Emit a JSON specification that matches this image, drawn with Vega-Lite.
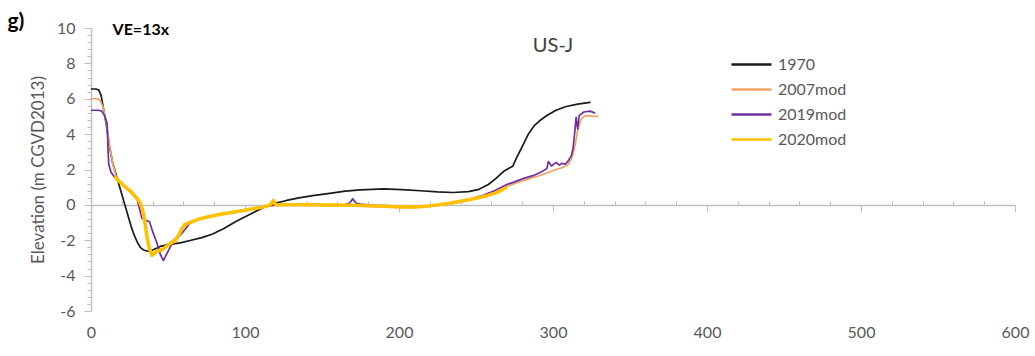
{
  "$schema": "https://vega.github.io/schema/vega-lite/v6.json",
  "width": 924,
  "height": 283,
  "autosize": {"type": "none"},
  "padding": {"left": 91, "top": 28, "right": 20, "bottom": 45},
  "background": "white",
  "config": {"view": {"stroke": null}, "font": "Lato"},
  "title": {"text": "g)", "anchor": "start", "frame": "bounds", "dx": -22, "offset": -12, "fontSize": 21, "fontWeight": "bold", "font": "Lato", "color": "#000000"},
  "encoding": {
    "x": {"field": "x", "type": "quantitative",
      "scale": {"domain": [0, 600], "nice": false, "zero": false},
      "axis": {"title": null, "grid": false, "offset": -106.125,
        "values": [0,20,40,60,80,100,120,140,160,180,200,220,240,260,280,300,320,340,360,380,400,420,440,460,480,500,520,540,560,580,600],
        "domainColor": "#bfbfbf", "domainWidth": 1.5, "tickColor": "#bfbfbf", "tickWidth": 1,
        "tickSize": {"condition": {"test": "datum.value % 100 === 0", "value": 7}, "value": -4},
        "labelExpr": "datum.value % 100 === 0 ? datum.label : ''",
        "labelFlush": false, "labelOverlap": false, "labelPadding": 113, "labelFont": "Lato", "labelFontSize": 16, "labelColor": "#595959"}},
    "y": {"field": "y", "type": "quantitative",
      "scale": {"domain": [-6, 10], "nice": false, "zero": false},
      "axis": {"title": "Elevation (m CGVD2013)", "grid": false,
        "values": [-6,-5.6,-5.2,-4.8,-4.4,-4,-3.6,-3.2,-2.8,-2.4,-2,-1.6,-1.2,-0.8,-0.4,0,0.4,0.8,1.2,1.6,2,2.4,2.8,3.2,3.6,4,4.4,4.8,5.2,5.6,6,6.4,6.8,7.2,7.6,8,8.4,8.8,9.2,9.6,10],
        "domainColor": "#bfbfbf", "domainWidth": 1.5, "tickColor": "#bfbfbf", "tickWidth": 1,
        "tickSize": {"condition": {"test": "abs(datum.value % 2) < 0.001", "value": 7}, "value": 4},
        "labelExpr": "abs(datum.value % 2) < 0.001 ? toString(datum.value) : ''",
        "labelOverlap": false, "labelPadding": 9, "labelFont": "Lato", "labelFontSize": 16, "labelColor": "#595959",
        "titleFont": "Lato", "titleFontSize": 17, "titleFontWeight": "normal", "titleColor": "#595959", "titlePadding": 9}}
  },
  "layer": [
    {
      "data": {"values": [
        {"series":"1970","x":0,"y":6.55},{"series":"1970","x":3,"y":6.55},{"series":"1970","x":5,"y":6.5},{"series":"1970","x":6.5,"y":6.2},{"series":"1970","x":8,"y":5.5},{"series":"1970","x":10,"y":4.5},{"series":"1970","x":12,"y":3.3},{"series":"1970","x":14,"y":2.4},{"series":"1970","x":16,"y":1.8},{"series":"1970","x":18,"y":1.2},{"series":"1970","x":20,"y":0.6},{"series":"1970","x":22,"y":0},{"series":"1970","x":24,"y":-0.6},{"series":"1970","x":26,"y":-1.2},{"series":"1970","x":28,"y":-1.7},{"series":"1970","x":30,"y":-2.1},{"series":"1970","x":32,"y":-2.4},{"series":"1970","x":34,"y":-2.55},{"series":"1970","x":37,"y":-2.62},{"series":"1970","x":40,"y":-2.55},{"series":"1970","x":45,"y":-2.35},{"series":"1970","x":50,"y":-2.25},{"series":"1970","x":58,"y":-2.15},{"series":"1970","x":65,"y":-2.0},{"series":"1970","x":72,"y":-1.85},{"series":"1970","x":79,"y":-1.65},{"series":"1970","x":86,"y":-1.35},{"series":"1970","x":95,"y":-0.9},{"series":"1970","x":104,"y":-0.5},{"series":"1970","x":112,"y":-0.15},{"series":"1970","x":120,"y":0.1},{"series":"1970","x":127,"y":0.25},{"series":"1970","x":135,"y":0.4},{"series":"1970","x":144,"y":0.52},{"series":"1970","x":155,"y":0.65},{"series":"1970","x":165,"y":0.78},{"series":"1970","x":175,"y":0.85},{"series":"1970","x":190,"y":0.9},{"series":"1970","x":202,"y":0.86},{"series":"1970","x":214,"y":0.8},{"series":"1970","x":225,"y":0.73},{"series":"1970","x":235,"y":0.7},{"series":"1970","x":245,"y":0.75},{"series":"1970","x":252,"y":0.88},{"series":"1970","x":258,"y":1.15},{"series":"1970","x":263,"y":1.5},{"series":"1970","x":268,"y":1.9},{"series":"1970","x":272,"y":2.1},{"series":"1970","x":274,"y":2.2},{"series":"1970","x":276,"y":2.6},{"series":"1970","x":280,"y":3.3},{"series":"1970","x":284,"y":4.0},{"series":"1970","x":288,"y":4.5},{"series":"1970","x":292,"y":4.8},{"series":"1970","x":296,"y":5.05},{"series":"1970","x":302,"y":5.35},{"series":"1970","x":308,"y":5.55},{"series":"1970","x":316,"y":5.7},{"series":"1970","x":324,"y":5.8},
        {"series":"2007mod","x":0,"y":6.0},{"series":"2007mod","x":4,"y":6.0},{"series":"2007mod","x":6,"y":5.9},{"series":"2007mod","x":8,"y":5.5},{"series":"2007mod","x":10,"y":4.6},{"series":"2007mod","x":12,"y":3.4},{"series":"2007mod","x":14,"y":2.4},{"series":"2007mod","x":16,"y":1.7},{"series":"2007mod","x":18,"y":1.35},{"series":"2007mod","x":22,"y":1.0},{"series":"2007mod","x":26,"y":0.7},{"series":"2007mod","x":30,"y":0.3},{"series":"2007mod","x":32,"y":0.0},{"series":"2007mod","x":34,"y":-0.6},{"series":"2007mod","x":36,"y":-1.5},{"series":"2007mod","x":38,"y":-2.4},{"series":"2007mod","x":40,"y":-2.75},{"series":"2007mod","x":43,"y":-2.6},{"series":"2007mod","x":48,"y":-2.4},{"series":"2007mod","x":52,"y":-2.1},{"series":"2007mod","x":56,"y":-1.8},{"series":"2007mod","x":60,"y":-1.2},{"series":"2007mod","x":65,"y":-0.95},{"series":"2007mod","x":70,"y":-0.8},{"series":"2007mod","x":80,"y":-0.6},{"series":"2007mod","x":90,"y":-0.45},{"series":"2007mod","x":100,"y":-0.3},{"series":"2007mod","x":110,"y":-0.15},{"series":"2007mod","x":120,"y":0.0},{"series":"2007mod","x":130,"y":0.0},{"series":"2007mod","x":140,"y":-0.02},{"series":"2007mod","x":150,"y":-0.05},{"series":"2007mod","x":160,"y":-0.05},{"series":"2007mod","x":170,"y":-0.05},{"series":"2007mod","x":180,"y":-0.08},{"series":"2007mod","x":190,"y":-0.12},{"series":"2007mod","x":200,"y":-0.15},{"series":"2007mod","x":210,"y":-0.15},{"series":"2007mod","x":220,"y":-0.08},{"series":"2007mod","x":230,"y":0.02},{"series":"2007mod","x":240,"y":0.15},{"series":"2007mod","x":250,"y":0.35},{"series":"2007mod","x":258,"y":0.55},{"series":"2007mod","x":265,"y":0.8},{"series":"2007mod","x":270,"y":1.05},{"series":"2007mod","x":278,"y":1.3},{"series":"2007mod","x":285,"y":1.5},{"series":"2007mod","x":290,"y":1.62},{"series":"2007mod","x":296,"y":1.8},{"series":"2007mod","x":302,"y":2.0},{"series":"2007mod","x":306,"y":2.1},{"series":"2007mod","x":310,"y":2.3},{"series":"2007mod","x":312,"y":2.6},{"series":"2007mod","x":314,"y":3.2},{"series":"2007mod","x":316,"y":4.2},{"series":"2007mod","x":318,"y":4.8},{"series":"2007mod","x":320,"y":5.0},{"series":"2007mod","x":323,"y":5.05},{"series":"2007mod","x":326,"y":5.0},{"series":"2007mod","x":329,"y":5.0},
        {"series":"2019mod","x":0,"y":5.35},{"series":"2019mod","x":5,"y":5.35},{"series":"2019mod","x":7,"y":5.3},{"series":"2019mod","x":9,"y":5.0},{"series":"2019mod","x":10.5,"y":4.6},{"series":"2019mod","x":11,"y":3.2},{"series":"2019mod","x":11.5,"y":2.3},{"series":"2019mod","x":13,"y":1.85},{"series":"2019mod","x":15,"y":1.6},{"series":"2019mod","x":17.5,"y":1.4},{"series":"2019mod","x":22,"y":1.0},{"series":"2019mod","x":26,"y":0.7},{"series":"2019mod","x":30,"y":0.3},{"series":"2019mod","x":33,"y":-0.75},{"series":"2019mod","x":35,"y":-0.85},{"series":"2019mod","x":38,"y":-0.95},{"series":"2019mod","x":40,"y":-1.5},{"series":"2019mod","x":43,"y":-2.2},{"series":"2019mod","x":45,"y":-2.8},{"series":"2019mod","x":47,"y":-3.15},{"series":"2019mod","x":49,"y":-2.8},{"series":"2019mod","x":52,"y":-2.3},{"series":"2019mod","x":56,"y":-1.9},{"series":"2019mod","x":60,"y":-1.5},{"series":"2019mod","x":64,"y":-1.05},{"series":"2019mod","x":70,"y":-0.8},{"series":"2019mod","x":80,"y":-0.6},{"series":"2019mod","x":90,"y":-0.45},{"series":"2019mod","x":100,"y":-0.3},{"series":"2019mod","x":110,"y":-0.15},{"series":"2019mod","x":120,"y":0.0},{"series":"2019mod","x":130,"y":0.02},{"series":"2019mod","x":140,"y":0.02},{"series":"2019mod","x":150,"y":0.0},{"series":"2019mod","x":160,"y":0.0},{"series":"2019mod","x":165,"y":0.02},{"series":"2019mod","x":168,"y":0.1},{"series":"2019mod","x":170,"y":0.35},{"series":"2019mod","x":172,"y":0.1},{"series":"2019mod","x":175,"y":0.05},{"series":"2019mod","x":185,"y":-0.02},{"series":"2019mod","x":195,"y":-0.06},{"series":"2019mod","x":205,"y":-0.1},{"series":"2019mod","x":215,"y":-0.1},{"series":"2019mod","x":225,"y":-0.02},{"series":"2019mod","x":235,"y":0.1},{"series":"2019mod","x":245,"y":0.3},{"series":"2019mod","x":255,"y":0.55},{"series":"2019mod","x":262,"y":0.8},{"series":"2019mod","x":270,"y":1.15},{"series":"2019mod","x":275,"y":1.3},{"series":"2019mod","x":281,"y":1.5},{"series":"2019mod","x":287,"y":1.65},{"series":"2019mod","x":292,"y":1.85},{"series":"2019mod","x":296,"y":2.05},{"series":"2019mod","x":297,"y":2.45},{"series":"2019mod","x":299,"y":2.2},{"series":"2019mod","x":302,"y":2.4},{"series":"2019mod","x":304,"y":2.25},{"series":"2019mod","x":306,"y":2.35},{"series":"2019mod","x":308,"y":2.3},{"series":"2019mod","x":310,"y":2.5},{"series":"2019mod","x":312,"y":2.8},{"series":"2019mod","x":313,"y":3.2},{"series":"2019mod","x":314,"y":4.0},{"series":"2019mod","x":315,"y":4.95},{"series":"2019mod","x":316,"y":4.3},{"series":"2019mod","x":317,"y":5.05},{"series":"2019mod","x":320,"y":5.25},{"series":"2019mod","x":324,"y":5.3},{"series":"2019mod","x":327,"y":5.2},
        {"series":"2020mod","x":16,"y":1.55},{"series":"2020mod","x":18,"y":1.35},{"series":"2020mod","x":20,"y":1.2},{"series":"2020mod","x":22,"y":1.05},{"series":"2020mod","x":24,"y":0.9},{"series":"2020mod","x":26,"y":0.75},{"series":"2020mod","x":28,"y":0.55},{"series":"2020mod","x":30,"y":0.35},{"series":"2020mod","x":32,"y":0.1},{"series":"2020mod","x":33.5,"y":-0.3},{"series":"2020mod","x":35,"y":-1.0},{"series":"2020mod","x":36.5,"y":-1.9},{"series":"2020mod","x":38,"y":-2.5},{"series":"2020mod","x":39.5,"y":-2.85},{"series":"2020mod","x":41,"y":-2.75},{"series":"2020mod","x":43,"y":-2.6},{"series":"2020mod","x":46,"y":-2.55},{"series":"2020mod","x":49,"y":-2.35},{"series":"2020mod","x":52,"y":-2.15},{"series":"2020mod","x":55,"y":-2.0},{"series":"2020mod","x":57,"y":-1.7},{"series":"2020mod","x":59,"y":-1.35},{"series":"2020mod","x":61,"y":-1.1},{"series":"2020mod","x":64,"y":-1.0},{"series":"2020mod","x":67,"y":-0.9},{"series":"2020mod","x":70,"y":-0.8},{"series":"2020mod","x":75,"y":-0.7},{"series":"2020mod","x":80,"y":-0.6},{"series":"2020mod","x":85,"y":-0.52},{"series":"2020mod","x":90,"y":-0.45},{"series":"2020mod","x":95,"y":-0.38},{"series":"2020mod","x":100,"y":-0.3},{"series":"2020mod","x":105,"y":-0.22},{"series":"2020mod","x":110,"y":-0.15},{"series":"2020mod","x":115,"y":-0.05},{"series":"2020mod","x":117,"y":0.05},{"series":"2020mod","x":118.5,"y":0.25},{"series":"2020mod","x":120,"y":0.0},{"series":"2020mod","x":125,"y":0.02},{"series":"2020mod","x":130,"y":0.0},{"series":"2020mod","x":140,"y":0.02},{"series":"2020mod","x":150,"y":0.0},{"series":"2020mod","x":160,"y":0.0},{"series":"2020mod","x":170,"y":-0.02},{"series":"2020mod","x":180,"y":-0.05},{"series":"2020mod","x":190,"y":-0.08},{"series":"2020mod","x":200,"y":-0.1},{"series":"2020mod","x":210,"y":-0.12},{"series":"2020mod","x":218,"y":-0.08},{"series":"2020mod","x":225,"y":0.0},{"series":"2020mod","x":232,"y":0.08},{"series":"2020mod","x":240,"y":0.2},{"series":"2020mod","x":246,"y":0.3},{"series":"2020mod","x":252,"y":0.42},{"series":"2020mod","x":257,"y":0.52},{"series":"2020mod","x":262,"y":0.65},{"series":"2020mod","x":266,"y":0.8},{"series":"2020mod","x":269,"y":0.95}
      ]},
      "mark": {"type": "line", "strokeJoin": "round", "strokeCap": "round", "clip": true},
      "encoding": {
        "color": {"field": "series", "type": "nominal",
          "scale": {"domain": ["1970", "2007mod", "2019mod", "2020mod"], "range": ["#1a1a1a", "#f2a262", "#7030a0", "#ffc000"]},
          "legend": {"title": null, "orient": "none", "legendX": 639, "legendY": 24, "symbolType": "stroke", "symbolSize": 1600, "symbolStrokeWidth": 2.5, "clipHeight": 25, "rowPadding": 0, "labelOffset": 5, "labelFont": "Lato", "labelFontSize": 16, "labelColor": "#595959"}},
        "strokeWidth": {"condition": {"test": "datum.series === '2020mod'", "value": 3.5}, "value": 1.7}
      }
    },
    {
      "data": {"values": [{"label": "VE=13x", "x": 14, "y": 9.9}]},
      "mark": {"type": "text", "align": "left", "baseline": "middle", "font": "Lato", "fontSize": 16, "fontWeight": "bold", "color": "#000000"},
      "encoding": {"text": {"field": "label"}}
    },
    {
      "data": {"values": [{"label": "US-J", "x": 300, "y": 9.0}]},
      "mark": {"type": "text", "align": "center", "baseline": "middle", "font": "Lato", "fontSize": 20, "color": "#404040"},
      "encoding": {"text": {"field": "label"}}
    }
  ]
}
